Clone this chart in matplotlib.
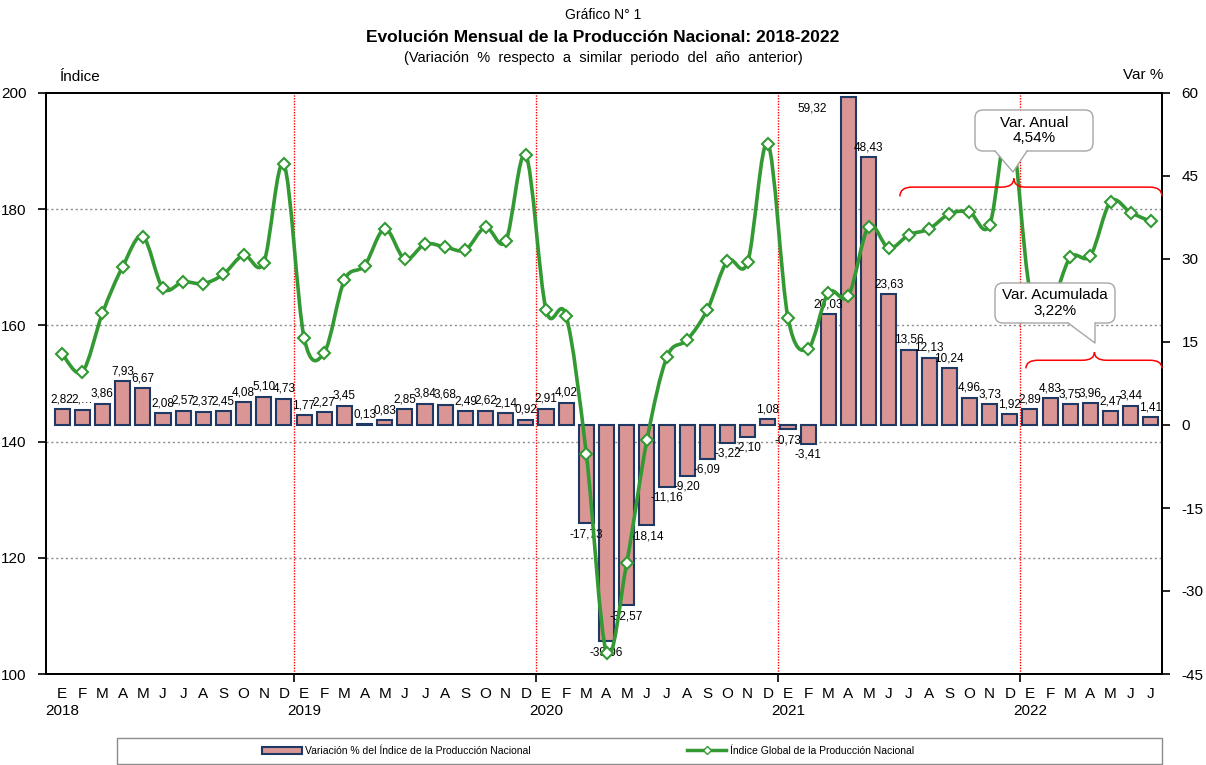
import matplotlib
matplotlib.use('Agg')
import matplotlib.pyplot as plt
import numpy as np
from matplotlib.path import Path
from matplotlib.patches import PathPatch, FancyBboxPatch, Polygon, Rectangle, Patch
from matplotlib.lines import Line2D
from matplotlib.transforms import blended_transform_factory

plt.rcParams['font.family'] = ['Liberation Sans', 'DejaVu Sans']
plt.rcParams['axes.unicode_minus'] = False

# data (Jan 2018 .. Jul 2022)
months = ['E', 'F', 'M', 'A', 'M', 'J', 'J', 'A', 'S', 'O', 'N', 'D']
years = ['2018', '2019', '2020', '2021', '2022']

var_pct = [2.82, 2.80, 3.86, 7.93, 6.67, 2.08, 2.57, 2.37, 2.45, 4.08, 5.10, 4.73,
           1.77, 2.27, 3.45, 0.13, 0.83, 2.85, 3.84, 3.68, 2.49, 2.62, 2.14, 0.92,
           2.91, 4.02, -17.73, -39.06, -32.57, -18.14, -11.16, -9.20, -6.09, -3.22, -2.10, 1.08,
           -0.73, -3.41, 20.03, 59.32, 48.43, 23.63, 13.56, 12.13, 10.24, 4.96, 3.73, 1.92,
           2.89, 4.83, 3.75, 3.96, 2.47, 3.44, 1.41]

indice = [155.1, 152.0, 162.1, 170.1, 175.3, 166.4, 167.5, 167.2, 168.8, 172.1, 170.8, 187.7,
          157.9, 155.3, 167.8, 170.3, 176.6, 171.4, 174.0, 173.5, 173.0, 176.9, 174.5, 189.3,
          162.7, 161.6, 137.8, 103.7, 119.1, 140.2, 154.6, 157.5, 162.7, 171.1, 170.9, 191.3,
          161.3, 156.0, 165.6, 165.1, 177.0, 173.3, 175.6, 176.6, 179.2, 179.5, 177.3, 195.0,
          166.0, 163.5, 171.7, 172.0, 181.3, 179.4, 177.9]

var_anual = '4,54%'
var_acum = '3,22%'

n = len(var_pct)
x = np.arange(n)
labels = [f'{v:.2f}'.replace('.', ',') for v in var_pct]
labels[1] = '2,…'   # truncated in the original

xlabels = []
for i in range(n):
    m = months[i % 12]
    if i % 12 == 0:
        m = m + '\n' + years[i // 12]
    xlabels.append(m)

W, H = 1206, 765
fig = plt.figure(figsize=(W / 100, H / 100), dpi=100)
ax = fig.add_axes([46 / W, 1 - 674 / H, (1162 - 46) / W, (674 - 93) / H])
ax2 = ax.twinx()
ax.yaxis.tick_right()
ax2.yaxis.tick_left()

bar_c = '#D99694'
edge_c = '#1F3864'
green = '#339933'

# bars (Var %) on the primary axes, right scale
ax.bar(x, var_pct, width=0.75, color=bar_c, edgecolor=edge_c, linewidth=1.5, zorder=3)
ax.set_ylim(-45, 60)
ax.set_yticks(np.arange(-45, 61, 15))
ax.set_xlim(-0.8, 54.55)

for i, v in enumerate(var_pct):
    if i == 39:
        ax.annotate(labels[i], (x[i], v), xytext=(-36, -12), textcoords='offset pixels',
                    ha='center', va='center', fontsize=8.5, zorder=6)
    elif v >= 0:
        ax.annotate(labels[i], (x[i], v), xytext=(0, 4), textcoords='offset pixels',
                    ha='center', va='bottom', fontsize=8.5, zorder=6)
    else:
        ax.annotate(labels[i], (x[i], v), xytext=(0, -5), textcoords='offset pixels',
                    ha='center', va='top', fontsize=8.5, zorder=6)

# line (Índice) on the twin axes, left scale
ax2.set_ylim(100, 200)
ax2.set_yticks(np.arange(100, 201, 20))

# smooth curve through the points (Catmull-Rom style bezier)
pts = np.column_stack([x, indice]).astype(float)
verts = [tuple(pts[0])]
codes = [Path.MOVETO]
for i in range(n - 1):
    p0 = pts[i - 1] if i > 0 else pts[i]
    p1 = pts[i]
    p2 = pts[i + 1]
    p3 = pts[i + 2] if i + 2 < n else pts[i + 1]
    c1 = p1 + (p2 - p0) / 6
    c2 = p2 - (p3 - p1) / 6
    verts += [tuple(c1), tuple(c2), tuple(p2)]
    codes += [Path.CURVE4] * 3
ax2.add_patch(PathPatch(Path(verts, codes), fill=False, edgecolor=green, lw=2.6, zorder=4))
ax2.plot(x, indice, linestyle='none', marker='D', markersize=6, markerfacecolor='white',
         markeredgecolor=green, markeredgewidth=1.5, zorder=5)

# grid lines of the left scale, behind the bars
tr = blended_transform_factory(ax.transAxes, ax2.transData)
for v in ax2.get_yticks()[1:-1]:
    ax.add_line(Line2D([0, 1], [v, v], transform=tr, color='#8c8c8c', lw=1,
                       linestyle=(0, (1.5, 2)), zorder=1))

# year separators
for b in [11.5, 23.5, 35.5, 47.5]:
    ax.axvline(b, color='red', lw=1, linestyle=(0, (1, 1)), zorder=2)

# x axis labels
ax.set_xticks(x)
ax.set_xticklabels(xlabels, fontsize=11)
ax.tick_params(axis='x', which='major', length=0, pad=9)
for t in ax.get_xticklabels():
    t.set_linespacing(1.35)
ax.set_xticks([11.5, 23.5, 35.5, 47.5], minor=True)
ax.tick_params(axis='x', which='minor', length=6, width=1.2, direction='out')

ax.tick_params(axis='y', labelsize=11, length=6, width=1.2, direction='out', pad=8)
ax2.tick_params(axis='y', labelsize=11, length=6, width=1.2, direction='out', pad=8)

for a in (ax, ax2):
    for s in a.spines.values():
        s.set_color('black')
        s.set_linewidth(1.4)

# titles
fig.text(0.5, 1 - 15 / H, 'Gráfico N° 1', ha='center', va='center', fontsize=10)
fig.text(0.5, 1 - 37 / H, 'Evolución Mensual de la Producción Nacional: 2018-2022',
         ha='center', va='center', fontsize=12.5, fontweight='bold')
fig.text(0.5, 1 - 58 / H, '(Variación  %  respecto  a  similar  periodo  del  año  anterior)',
         ha='center', va='center', fontsize=10.5)
fig.text(60 / W, 1 - 77 / H, 'Índice', ha='left', va='center', fontsize=11)
fig.text(1143 / W, 1 - 75 / H, 'Var %', ha='center', va='center', fontsize=11)


# braces (in data coords of the left scale)
def brace(x0, x1, xm, ym, yt, yp, r=0.6):
    v = [(x0, yt), (x0, ym), (x0 + r, ym), (xm - r, ym), (xm, ym), (xm, yp),
         (xm, ym), (xm + r, ym), (x1 - r, ym), (x1, ym), (x1, yt)]
    c = [Path.MOVETO, Path.CURVE3, Path.CURVE3, Path.LINETO, Path.CURVE3, Path.CURVE3,
         Path.CURVE3, Path.CURVE3, Path.LINETO, Path.CURVE3, Path.CURVE3]
    ax2.add_patch(PathPatch(Path(v, c), fill=False, edgecolor='red', lw=1.1,
                            zorder=6, clip_on=False))


brace(41.55, 54.55, 47.2, 183.8, 182.2, 185.3)
brace(47.8, 54.55, 51.2, 154.0, 152.6, 155.4)


# callouts (reference pixel positions, y from top)
def callout(text, box, base, tip):
    x0, y0, x1, y1 = box
    f = lambda px, py: (px / 100, (H - py) / 100)
    bx, by = f(x0, y1)
    fig.add_artist(FancyBboxPatch((bx, by), (x1 - x0) / 100, (y1 - y0) / 100,
                                  boxstyle='round,pad=0,rounding_size=0.08',
                                  transform=fig.dpi_scale_trans, facecolor='white',
                                  edgecolor='#a6a6a6', lw=1, zorder=7))
    a = f(base[0], y1 - 1)
    b = f(base[1], y1 - 1)
    t = f(*tip)
    fig.add_artist(Polygon([a, t, b], closed=True, transform=fig.dpi_scale_trans,
                           facecolor='white', edgecolor='none', zorder=8))
    fig.add_artist(Line2D([a[0], t[0], b[0]], [a[1] - 0.01, t[1], b[1] - 0.01],
                          transform=fig.dpi_scale_trans, color='#a6a6a6', lw=1, zorder=8))
    cx, cy = f((x0 + x1) / 2, (y0 + y1) / 2)
    fig.text(cx / (W / 100), cy / (H / 100), text, ha='center', va='center',
             fontsize=11, linespacing=1.1, zorder=9)


callout('Var. Anual\n' + var_anual, (975, 110, 1093, 151), (995, 1027), (1013, 172))
callout('Var. Acumulada\n' + var_acum, (995, 283, 1115, 323), (1068, 1095), (1095, 343))

# legend
fig.add_artist(Rectangle((117 / W, 1 / H), (1162 - 117) / W, (765 - 739) / H,
                         transform=fig.transFigure, fill=False, edgecolor='#8c8c8c', lw=1))
handles = [Patch(facecolor=bar_c, edgecolor=edge_c, linewidth=1.5),
           Line2D([], [], color=green, lw=2.5, marker='D', markersize=4,
                  markerfacecolor='white', markeredgecolor=green)]
fig.legend(handles, ['Variación % del Índice de la Producción Nacional',
                     'Índice Global de la Producción Nacional'],
           loc='center', bbox_to_anchor=(588 / W, 1 - 751 / H), ncol=2, frameon=False,
           fontsize=7.5, columnspacing=15, handlelength=3.8, handletextpad=0.3)

fig.savefig('out.png', dpi=100)
